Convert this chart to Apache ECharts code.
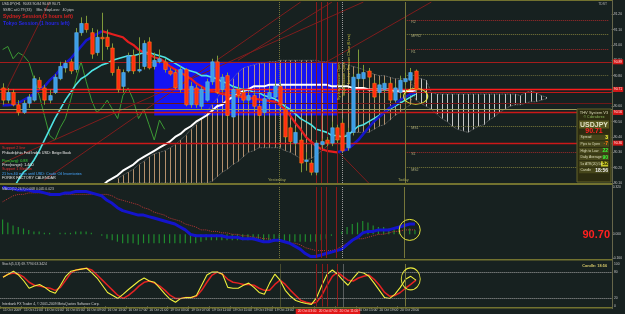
<!DOCTYPE html>
<html><head><meta charset="utf-8">
<script src="https://cdn.jsdelivr.net/npm/echarts@6/dist/echarts.min.js"></script>
<style>html,body{margin:0;padding:0;background:#172120;}#c{width:625px;height:314px;}</style>
</head><body><div id="c"></div>
<script>
// ---------- DATA ----------
const timeLabels = ["15 Oct 2009","15 Oct 21:00","16 Oct 01:00","16 Oct 05:00","16 Oct 09:00","16 Oct 13:00","16 Oct 17:00","16 Oct 21:00","19 Oct 03:00","19 Oct 07:00","19 Oct 11:00","19 Oct 15:00","19 Oct 19:00","19 Oct 23:00","20 Oct 03:00","20 Oct 07:00","20 Oct 11:00","20 Oct 15:00","20 Oct 19:00","20 Oct 23:00"];
const opens = [90.72,90.64,90.69,90.61,90.56,90.62,90.64,90.77,90.72,90.64, 90.69,90.78,90.85,90.89,90.84,91.08,91.14,91.08,90.95,91.05, 91.05,90.98,90.84,90.73,90.83,90.93,90.83,90.86,91.02,90.86, 90.89,90.89,90.83,90.82,90.71,90.84,90.61,90.72,90.60,90.64, 90.76,90.89,90.71,90.80,90.53,90.71,90.69,90.64,90.67,90.60, 90.56,90.65,90.66,90.73,90.58,90.46,90.36,90.38,90.24,90.23, 90.17,90.35,90.38,90.36,90.46,90.49,90.33,90.43,90.78,90.78, 90.83,90.75,90.69,90.71,90.75,90.64,90.69,90.76,90.77,90.83];
const closes = [90.64,90.69,90.61,90.56,90.62,90.66,90.78,90.72,90.64,90.67, 90.79,90.86,90.88,90.83,91.08,91.14,91.10,90.94,91.05,91.04, 90.99,90.82,90.71,90.82,90.93,90.83,90.84,91.01,90.85,90.90, 90.91,90.84,90.81,90.72,90.84,90.61,90.73,90.61,90.71,90.76, 90.89,90.69,90.79,90.54,90.71,90.67,90.64,90.67,90.60,90.54, 90.65,90.69,90.73,90.61,90.40,90.37,90.43,90.23,90.25,90.17, 90.36,90.37,90.36,90.46,90.38,90.31,90.43,90.79,90.81,90.82, 90.79,90.66,90.74,90.75,90.64,90.72,90.77,90.78,90.82,90.71];
const lows = [90.61,90.62,90.60,90.54,90.55,90.59,90.63,90.71,90.61,90.62, 90.68,90.77,90.82,90.81,90.82,91.06,91.08,90.91,90.93,90.90, 90.97,90.80,90.69,90.69,90.82,90.81,90.82,90.84,90.84,90.84, 90.88,90.82,90.80,90.71,90.69,90.60,90.59,90.59,90.58,90.63, 90.74,90.68,90.69,90.52,90.52,90.65,90.62,90.61,90.58,90.52, 90.54,90.64,90.65,90.60,90.38,90.35,90.34,90.17,90.18,90.15, 90.15,90.33,90.34,90.34,90.36,90.30,90.31,90.41,90.76,90.77, 90.77,90.64,90.67,90.69,90.63,90.63,90.67,90.74,90.76,90.69];
const highs = [90.75,90.72,90.71,90.64,90.64,90.68,90.80,90.79,90.74,90.71, 90.81,90.89,90.90,90.91,91.11,91.18,91.19,91.11,91.10,91.21, 91.10,91.01,90.86,90.84,90.95,90.97,91.05,91.03,91.05,90.95, 90.97,90.91,90.85,90.84,90.86,90.85,90.76,90.74,90.73,90.78, 90.91,90.93,90.81,90.82,90.73,90.73,90.72,90.69,90.69,90.61, 90.67,90.72,90.76,90.75,90.61,90.48,90.46,90.41,90.30,90.25, 90.38,90.39,90.40,90.50,90.48,90.52,90.46,90.81,90.97,90.87, 90.85,90.77,90.77,90.77,90.77,90.75,90.80,90.82,90.85,90.84];
const maWhite = [null,null,null,null,null,null,null,null,null,null, null,null,null,null,null,null,null,null,90.04,90.08, 90.11,90.13,90.15,90.18,90.20,90.22,90.25,90.27,90.29,90.31, 90.33,90.35,90.37,90.40,90.42,90.45,90.47,90.50,90.52,90.54, 90.57,90.60,90.61,90.64,90.66,90.68,90.70,90.71,90.73,90.73, 90.73,90.74,90.74,90.74,90.74,90.74,90.74,90.74,90.74,90.74, 90.74,90.74,90.74,90.73,90.73,90.73,90.73,90.72,90.72,90.72, 90.71,90.71,90.71,90.71,90.71,90.70,90.70,90.70,90.70,90.70];
const maCyan = [null,null,90.06,90.12,90.17,90.20,90.25,90.31,90.38,90.45, 90.52,90.58,90.64,90.69,90.74,90.78,90.80,90.83,90.85,90.87, 90.88,90.90,90.91,90.92,90.93,90.93,90.94,90.95,90.95,90.94, 90.93,90.92,90.90,90.88,90.86,90.84,90.83,90.82,90.80,90.80, 90.79,90.78,90.76,90.75,90.73,90.72,90.71,90.71,90.69,90.69, 90.67,90.66,90.65,90.63,90.60,90.58,90.55,90.52,90.50,90.48, 90.45,90.44,90.43,90.41,90.41,90.40,90.41,90.44,90.47,90.48, 90.50,90.52,90.54,90.56,90.58,90.60,90.62,90.64,90.66,90.68];
const maSlope = [90.605,90.608,90.61,90.62,90.64,90.66,90.68,90.71,90.73,90.77, 90.80,90.84,90.88,90.91,90.95,90.99,91.03,91.05,91.07,91.09, 91.08,91.07,91.06,91.05,91.02,91.00,90.97,90.95,90.94,90.92, 90.91,90.89,90.86,90.84,90.82,90.80,90.78,90.75,90.73,90.71, 90.70,90.69,90.68,90.675,90.67,90.665,90.66,90.655,90.65,90.645, 90.64,90.635,90.63,90.61,90.58,90.54,90.49,90.45,90.40,90.37, 90.34,90.32,90.31,90.305,90.30,90.31,90.32,90.35,90.38,90.42, 90.46,90.50,90.53,90.56,90.59,90.61,90.64,90.66,90.68,90.69];
const greenLine = [90.97,90.99,90.91,90.95,90.93,90.89,90.78,90.67,90.54,90.41, 90.38,90.46,90.52,90.64,90.77,90.89,90.76,90.64,90.56,90.59, 90.64,90.58,90.52,90.67,90.72,90.64,90.52,90.58,90.48,90.38, 90.51,90.45];
const spanA = [null,null,null,null,null,null,null,null,null,null, null,null,null,null,null,null,null,null,null,null, null,null,90.13,90.15,90.17,90.19,90.22,90.24,90.27,90.29, 90.30,90.31,90.33,90.35,90.38,90.41,90.45,90.48,90.52,90.56, 90.61,90.65,90.71,90.75,90.78,90.82,90.85,90.86,90.87,90.88, 90.88,90.89,90.89,90.90,90.90,90.90,90.90,90.90,90.90,90.90, 90.90,90.89,90.89,90.88,90.88,90.88,90.87,90.86,90.85,90.84, 90.82,90.81,90.80,90.80,90.79,90.78,90.78,90.78,90.78,90.64, 90.62,90.60,90.58,90.55,90.52,90.50,90.47,90.45,90.44,90.43, 90.45,90.47,90.48,90.51,90.53,90.56,90.58,90.60,90.61,90.61, 90.62,90.63,90.63,90.64,90.65];
const spanB = [null,null,null,null,null,null,null,null,null,null, null,null,null,null,null,null,null,null,null,null, null,null,90.10,90.10,90.10,90.10,90.10,90.10,90.10,90.10, 90.10,90.10,90.10,90.10,90.10,90.10,90.10,90.10,90.10,90.10, 90.11,90.14,90.17,90.19,90.22,90.24,90.27,90.30,90.31,90.33, 90.33,90.33,90.33,90.33,90.31,90.30,90.28,90.26,90.25,90.26, 90.28,90.31,90.34,90.37,90.39,90.41,90.42,90.43,90.43,90.43, 90.43,90.45,90.47,90.48,90.51,90.54,90.56,90.59,90.61,90.79, 90.78,90.77,90.69,90.68,90.68,90.68,90.68,90.68,90.68,90.68, 90.68,90.68,90.68,90.68,90.68,90.68,90.68,90.68,90.68,90.67, 90.69,90.70,90.69,90.67,90.66];
const macdMain = [0.32,0.31,0.31,0.30,0.30,0.30,0.29,0.29,0.28,0.27, 0.27,0.27,0.28,0.28,0.29,0.29,0.29,0.28,0.27,0.26, 0.23,0.21,0.18,0.16,0.15,0.14,0.13,0.13,0.12,0.11, 0.10,0.09,0.08,0.07,0.05,0.03,0.00,-0.01,-0.01,-0.01, -0.01,-0.01,-0.01,-0.02,-0.02,-0.02,-0.03,-0.03,-0.03,-0.04, -0.05,-0.05,-0.04,-0.04,-0.05,-0.06,-0.08,-0.10,-0.13,-0.15, -0.15,-0.14,-0.13,-0.12,-0.11,-0.10,-0.07,-0.04,-0.02,0.01, 0.02,0.02,0.03,0.03,0.03,0.04,0.05,0.06,0.07,0.07];
const macdSignal = [0.22,0.24,0.26,0.27,0.27,0.28,0.28,0.28,0.28,0.28, 0.27,0.27,0.27,0.27,0.27,0.27,0.27,0.27,0.27,0.27, 0.27,0.26,0.24,0.23,0.22,0.21,0.20,0.18,0.17,0.15, 0.14,0.13,0.11,0.10,0.09,0.07,0.06,0.05,0.03,0.03, 0.02,0.02,0.01,0.01,0.00,0.00,-0.01,-0.01,-0.02,-0.02, -0.03,-0.03,-0.04,-0.04,-0.05,-0.06,-0.06,-0.07,-0.09,-0.10, -0.11,-0.11,-0.11,-0.11,-0.10,-0.08,-0.06,-0.04,-0.03,-0.03, -0.02,-0.01,0.00,0.00,0.01,0.02,0.02,0.03,0.03,0.03];
const osma = [0.10,0.08,0.06,0.05,0.04,0.03,0.02,0.02,0.01,0.01, 0.00,0.01,0.01,0.01,0.02,0.02,0.02,0.01,0.00,-0.01, -0.03,-0.04,-0.05,-0.06,-0.06,-0.06,-0.07,-0.06,-0.06,-0.06, -0.06,-0.06,-0.06,-0.06,-0.06,-0.06,-0.06,-0.06,-0.05,-0.04, -0.04,-0.04,-0.04,-0.04,-0.04,-0.04,-0.04,-0.04,-0.04,-0.04, -0.05,-0.05,-0.05,-0.05,-0.05,-0.05,-0.05,-0.05,-0.05,-0.05, -0.05,-0.04,-0.03,-0.01,0.00,0.02,0.05,0.07,0.08,0.09, 0.08,0.06,0.05,0.05,0.04,0.04,0.05,0.05,0.04,0.03];
const stochK = [69,76,83,74,60,43,48,52,45,36, 31,50,71,83,86,88,90,79,67,50, 33,26,19,29,40,50,60,67,60,57, 43,29,17,10,19,21,21,26,50,74, 81,81,76,45,43,43,50,55,45,33, 29,55,76,62,38,24,14,10,7,5, 21,50,76,86,76,62,50,67,81,79, 71,55,38,21,19,29,45,64,71,62];
const stochD = [69,76,79,76,69,57,50,48,45,43, 38,45,62,79,86,88,90,86,74,62, 50,38,26,19,26,36,48,57,60,55, 48,38,26,19,19,21,21,24,38,57, 74,81,76,64,57,55,52,52,50,43, 38,38,52,62,52,38,26,14,10,7, 10,26,50,71,81,71,62,60,67,71, 74,64,50,33,24,26,33,43,52,62];
const hLevels = [90.89, 90.71, 90.69, 90.62, 90.58, 90.56, 90.36];
const pivotNames = ["R2","MPR2","R1","","MS1","S1","MS2"];
const pivotPrices = [91.16, 91.07, 90.97, 90.80, 90.47, 90.30, 90.20];
const sessionBars = [53, 60, 61, 62, 64, 65, 77];
const trendLines = [[[0,90.66],[9,91.28]], [[0,90.23],[69,91.28]], [[8,90.12],[57,91.28]], [[45,90.90],[63,91.28]], [[62,90.89],[82,91.28]], [[64,90.31],[70,90.10]]];
const panelLabels = ["Spread","Pips to Open","High to Low","Daily Average","5x ATR(20) 5s","Candle"];
const panelValues = ["3","-7","22","90","52","18:56"];

// ---------- STYLE HELPERS ----------
const N = 117;
const cats = Array.from({length:N}, (_, i) => String(i));
const FONT = "'Liberation Sans', Arial, sans-serif";
const hStyles = [
  {color:'#a41c1c', width:1, lab:true}, {color:'#ff1c1c', width:1.4, lab:true}, {color:'#c01818', width:1, lab:false},
  {color:'#6e1818', width:1, lab:false}, {color:'#9a9a58', width:1, lab:false}, {color:'#cc1818', width:1.4, lab:true},
  {color:'#cc1818', width:1.4, lab:true}];
const pivotColors = ['#a02a2a','#7a7a3a','#a02a2a','#6a6a3a','#7a7a3a','#a02a2a','#7a7a3a'];
const sessionColors = ['#76763a','#8a1a1a','#8a1a1a','#8a1a1a','#8a1a1a','#9a9a9a','#76763a'];
const sessionTypes = ['dotted','solid','solid','solid','solid','dotted','solid'];

function vLines(){ return sessionBars.map((b, k) => ({xAxis: b, lineStyle:{color: sessionColors[k], width:1, type: sessionTypes[k]}, label:{show:false}})); }

const hLineData = hLevels.map((p, k) => ({yAxis: p, lineStyle:{color:hStyles[k].color, width:hStyles[k].width, type:'solid'},
  label: hStyles[k].lab ? {show:true, position:'end', distance:1, formatter: q => Number(q.value).toFixed(2), color:'#ffe0e0', backgroundColor:'#d41616', fontSize:3.4, padding:[1,1,1,1], fontFamily:FONT} : {show:false}}));
const pivotData = pivotPrices.map((p, k) => [
  {coord:[77, p], lineStyle:{color:pivotColors[k], width:1, type:'dotted'}, label:{show: pivotNames[k] !== '', position:'insideStartBottom', formatter: pivotNames[k], color:'#a8a878', fontSize:3.6, distance:[6,0], fontFamily:FONT}},
  {coord:[116, p]}]);

// slope-coloured MA split into rising / falling parts
const maRise = maSlope.map(() => null), maFall = maSlope.map(() => null);
for (let i = 1; i < maSlope.length; i++) { const arr = maSlope[i] > maSlope[i-1] ? maRise : maFall; arr[i] = maSlope[i]; arr[i-1] = maSlope[i-1]; }

const candleData = opens.map((o, i) => [i, o, closes[i], lows[i], highs[i]]);
const cloudData = spanA.map((a, i) => (a == null ? null : [i, a, spanB[i]])).filter(Boolean);

function renderCandle(params, api){
  const i = api.value(0), o = api.value(1), c = api.value(2), l = api.value(3), h = api.value(4);
  const po = api.coord([i,o]), pc = api.coord([i,c]), pl = api.coord([i,l]), ph = api.coord([i,h]);
  const bw = Math.max(2, api.size([1,0])[0]*0.66);
  const up = c >= o;
  const top = Math.min(po[1], pc[1]), bh = Math.max(1, Math.abs(po[1]-pc[1]));
  const cx = Math.round(po[0]) + 0.5;
  return {type:'group', children:[
    {type:'line', shape:{x1:cx, y1:pl[1], x2:cx, y2:ph[1]}, style:{stroke:'#7f9a3a', lineWidth:1}},
    {type:'rect', shape:{x:cx-bw/2, y:top, width:bw, height:bh}, style:{fill: up ? '#3b9de6' : '#ff2d12', stroke: up ? '#62b4f2' : '#ff7a10', lineWidth:0.6}}
  ]};
}
function renderCloud(params, api){
  const i = api.value(0), a = api.value(1), b = api.value(2);
  const p1 = api.coord([i,a]), p2 = api.coord([i,b]);
  const x = Math.round(p1[0]) + 0.5;
  return {type:'line', shape:{x1:x, y1:p1[1], x2:x, y2:p2[1]}, style:{stroke: a > b ? '#cfa37a' : '#e2e2e2', lineWidth:1, opacity:0.85}};
}

const labelInterval = idx => idx % 4 === 0 && idx / 4 < timeLabels.length;
const xHidden = g => ({gridIndex:g, type:'category', data:cats, boundaryGap:true, axisLine:{show:false}, axisTick:{show:false}, axisLabel:{show:false}, splitLine:{show:false}});

const series = [
  // main pane
  {type:'custom', name:'cloud', xAxisIndex:0, yAxisIndex:0, renderItem:renderCloud, data:cloudData, encode:{x:0, y:[1,2]}, z:2, clip:true,
   markArea:{silent:true, itemStyle:{color:'#1414f2'}, data:[[{coord:[29, 90.89]},{coord:[64, 90.54]}]]}},
  {type:'line', xAxisIndex:0, yAxisIndex:0, data:spanA, symbol:'none', lineStyle:{color:'#8a8a8a', width:0.8, type:'dotted'}, z:3},
  {type:'line', xAxisIndex:0, yAxisIndex:0, data:spanB, symbol:'none', lineStyle:{color:'#8a8a8a', width:0.8, type:'dotted'}, z:3},
  {type:'line', xAxisIndex:0, yAxisIndex:0, data:greenLine, symbol:'none', lineStyle:{color:'#3c9a34', width:1}, z:3},
  ...trendLines.map(t => ({type:'line', xAxisIndex:0, yAxisIndex:0, data:t, symbol:'none', lineStyle:{color:'#7e1d1d', width:1}, z:3})),
  {type:'line', xAxisIndex:0, yAxisIndex:0, data:maWhite, symbol:'none', lineStyle:{color:'#ffffff', width:2}, z:4},
  {type:'line', xAxisIndex:0, yAxisIndex:0, data:maCyan, symbol:'none', lineStyle:{color:'#4fe3e3', width:1.6}, z:4},
  {type:'line', xAxisIndex:0, yAxisIndex:0, data:maRise, symbol:'none', lineStyle:{color:'#1616c8', width:2.6}, z:4},
  {type:'line', xAxisIndex:0, yAxisIndex:0, data:maFall, symbol:'none', lineStyle:{color:'#e61e1e', width:2.2}, z:4},
  {type:'custom', name:'candles', xAxisIndex:0, yAxisIndex:0, renderItem:renderCandle, data:candleData, encode:{x:0, y:[1,2,3,4]}, z:6, clip:true,
   markLine:{silent:true, symbol:['none','none'], animation:false, data:[...hLineData, ...pivotData, ...vLines()]},
   markPoint:{silent:true, data:[{coord:[78.6, 90.665], symbol:'circle', symbolSize:[24,16], itemStyle:{color:'rgba(0,0,0,0)', borderColor:'#e6e63c', borderWidth:1}, label:{show:false}}]}},
  // MACD pane
  {type:'bar', xAxisIndex:1, yAxisIndex:1, data:osma, barWidth:1.2, itemStyle:{color:'#1f8c2e'}, z:2,
   markLine:{silent:true, symbol:['none','none'], animation:false, data:vLines()}},
  {type:'line', xAxisIndex:1, yAxisIndex:1, data:macdSignal, symbol:'none', lineStyle:{color:'#b83434', width:1, type:'dotted'}, z:3},
  {type:'line', xAxisIndex:1, yAxisIndex:1, data:macdMain, symbol:'none', lineStyle:{color:'#1414cc', width:3}, z:4,
   markPoint:{silent:true, data:[{coord:[78, 0.03], symbol:'circle', symbolSize:21, itemStyle:{color:'rgba(0,0,0,0)', borderColor:'#e6e63c', borderWidth:1}, label:{show:false}}]}},
  // Stochastic pane
  {type:'line', xAxisIndex:2, yAxisIndex:2, data:stochD, symbol:'none', lineStyle:{color:'#e42222', width:1.5}, z:3,
   markLine:{silent:true, symbol:['none','none'], animation:false, data:[
     {yAxis:80, lineStyle:{color:'#a4a4a4', width:1, type:'dotted'}, label:{show:false}},
     {yAxis:20, lineStyle:{color:'#a4a4a4', width:1, type:'dotted'}, label:{show:false}}, ...vLines()]}},
  {type:'line', xAxisIndex:2, yAxisIndex:2, data:stochK, symbol:'none', lineStyle:{color:'#f2f23c', width:1.1}, z:4,
   markPoint:{silent:true, data:[{coord:[77.5, 65], symbol:'circle', symbolSize:[19,22], itemStyle:{color:'rgba(0,0,0,0)', borderColor:'#e6e63c', borderWidth:1}, label:{show:false}}]}}
];

const sep = '#72722f';
const graphic = [
  {type:'rect', shape:{x:0,y:0,width:612,height:1}, style:{fill:sep}, z:50},
  {type:'rect', shape:{x:0,y:183,width:612,height:2}, style:{fill:sep}, z:50},
  {type:'rect', shape:{x:0,y:259,width:612,height:1.5}, style:{fill:sep}, z:50},
  {type:'rect', shape:{x:0,y:307,width:612,height:1.5}, style:{fill:sep}, z:50},
  {type:'rect', shape:{x:612,y:0,width:1,height:309}, style:{fill:'#66664a'}, z:50}
];
function txt(x, y, t, fill, size, bold, extra){ graphic.push(Object.assign({type:'text', x:x, y:y, z:60, style:{text:t, fill:fill, font:(bold?'bold ':'')+size+'px '+FONT, verticalAlign:'middle', align:'left'}}, extra||{})); }
// top-left header texts
txt(2, 4, 'USDJPY,H1  90.83 90.84 90.69 90.71', '#cfcfcf', 3.5);
txt(3, 10.5, 'SSRC at 0.79 (33)     Min. StopLoss:   40 pips', '#cfcfcf', 3.5);
txt(3, 16.5, 'Sydney Session (5 hours left)', '#d42020', 5, true);
txt(3, 24, 'Tokyo Session (1 hours left)', '#2626e6', 5, true);
// left bottom news block
txt(2, 148, 'Support 2 line', '#e03030', 3.8);
txt(2, 152.5, 'Philadelphia Fed Index USD: Beige Book', '#e6e6e6', 3.8);
txt(2, 161, 'Pips(avg): 0.88', '#36d836', 3.8);
txt(2, 165, 'Prev(range): 1.400', '#e6e6e6', 3.8);
txt(2, 169, 'Support 1 Median', '#e03030', 3.8);
txt(2, 173.5, '21 hrs 40 mins until USD: Crude Oil Inventories', '#46a6ff', 3.8);
txt(2, 177.5, 'FOREX FACTORY CALENDAR', '#e6e6e6', 3.8);
// session markers
txt(268, 180, 'Yesterday', '#a8a858', 4);
txt(398, 180, 'Today', '#a8a858', 4);
txt(339, 100, 'Sydney Session Open', '#d4cc40', 3.8, false, {rotation:Math.PI/2});
txt(344, 97, 'Tokyo Session Open', '#d4cc40', 3.8, false, {rotation:Math.PI/2});
txt(348.5, 84, 'London Session Close (6 hrs)', '#d4cc40', 3.8, false, {rotation:Math.PI/2});
// sub pane texts
txt(2, 189.5, 'MACD(12,26,9) 0.068 0.045 0.023', '#c8c8c8', 3.4);
txt(2, 264, 'Stoch(5,3,3) 69.7794 63.3424', '#c8c8c8', 3.4);
txt(2, 304.5, 'Interbank FX Trader 4, \u00a9 2001-2009 MetaQuotes Software Corp.', '#d0d0d0', 3.4);
graphic.push({type:'text', x:610, y:234.5, z:60, style:{text:'90.70', fill:'#ff2020', font:'bold 11px '+FONT, align:'right', verticalAlign:'middle'}});
graphic.push({type:'text', x:607, y:266, z:60, style:{text:'Candle: 18:56', fill:'#d6c868', font:'bold 3.8px '+FONT, align:'right', verticalAlign:'middle'}});
graphic.push({type:'text', x:607, y:4, z:60, style:{text:'TDST', fill:'#b0b0b0', font:'3.4px '+FONT, align:'right', verticalAlign:'middle'}});
// info panel
graphic.push({type:'rect', z:55, shape:{x:577, y:109, width:34, height:73}, style:{fill:'#2c2c10', stroke:'#64642a', lineWidth:1}});
graphic.push({type:'text', x:594, y:113, z:60, style:{text:'THV System V3', fill:'#d6d6b4', font:'4px '+FONT, align:'center', verticalAlign:'middle'}});
graphic.push({type:'text', x:594, y:117.5, z:60, style:{text:'\u00a9 Cobraforex', fill:'#8fbf5f', font:'3.5px '+FONT, align:'center', verticalAlign:'middle'}});
graphic.push({type:'rect', z:56, shape:{x:579, y:120.5, width:30, height:8}, style:{fill:'#58581f'}});
graphic.push({type:'text', x:594, y:124.8, z:60, style:{text:'USDJPY', fill:'#e2e2c4', font:'bold 7px '+FONT, align:'center', verticalAlign:'middle'}});
graphic.push({type:'text', x:594, y:131.5, z:60, style:{text:'90.71', fill:'#ff2222', font:'bold 7px '+FONT, align:'center', verticalAlign:'middle'}});
const valColors = ['#ffff36','#ff7a10','#36ff36','#36ff36','#202000','#f2f2f2'];
panelLabels.forEach((lab, k) => {
  const y = 137.5 + k*6.6;
  graphic.push({type:'rect', z:56, shape:{x:579, y:y-2.8, width:30, height:5.6}, style:{fill:'#46461a'}});
  if (k === 4) graphic.push({type:'rect', z:57, shape:{x:601, y:y-2.6, width:7, height:5.2}, style:{fill:'#c8c828'}});
  graphic.push({type:'text', x:580.5, y:y, z:60, style:{text:lab, fill:'#dcdcbc', font:'3.4px '+FONT, align:'left', verticalAlign:'middle'}});
  graphic.push({type:'text', x:608, y:y, z:60, style:{text:panelValues[k], fill:valColors[k], font:'bold 5px '+FONT, align:'right', verticalAlign:'middle'}});
});

const option = {
  animation:false,
  backgroundColor:'#172120',
  grid:[{left:0, right:13, top:2, height:181}, {left:0, right:13, top:187, height:71}, {left:0, right:13, top:264, height:43}],
  xAxis:[xHidden(0), xHidden(1),
    {gridIndex:2, type:'category', data:cats, boundaryGap:true, axisLine:{show:false}, splitLine:{show:false},
     axisTick:{show:true, interval:labelInterval, length:2, lineStyle:{color:'#8a8a6a'}},
     axisLabel:{show:true, interval:labelInterval, align:'left', margin:2.5, fontSize:3.3, color:'#cfcfcf', fontFamily:FONT,
       formatter:(v, idx) => { const k = idx/4; const t = timeLabels[k] || ''; return (k >= 14 && k <= 16) ? '{r|' + t + '}' : t; },
       rich:{r:{backgroundColor:'#e21818', color:'#ffd0d0', fontSize:3.3, padding:[1,2,1,2], fontFamily:FONT}}}}],
  yAxis:[
    {gridIndex:0, type:'value', position:'right', min:90.10, max:91.28, interval:0.1, splitLine:{show:false},
     axisLine:{show:false}, axisTick:{show:true, length:2, lineStyle:{color:'#8a8a8a'}},
     axisLabel:{fontSize:3.3, color:'#c4c4c4', margin:2, fontFamily:FONT, formatter:v => v.toFixed(2), showMaxLabel:false}},
    {gridIndex:1, type:'value', position:'right', min:-0.16, max:0.32, splitLine:{show:false}, axisLine:{show:false},
     axisTick:{show:false}, axisLabel:{fontSize:3.3, color:'#c4c4c4', margin:2, fontFamily:FONT, customValues:[-0.16, 0, 0.32], formatter:v => v.toFixed(3)}},
    {gridIndex:2, type:'value', position:'right', min:0, max:100, splitLine:{show:false}, axisLine:{show:false},
     axisTick:{show:false}, axisLabel:{fontSize:3.3, color:'#c4c4c4', margin:2, fontFamily:FONT, customValues:[0, 20, 80, 100]}}
  ],
  series: series,
  graphic: graphic
};
const chart = echarts.init(document.getElementById('c'), null, {renderer:'canvas', width:625, height:314});
chart.setOption(option);
</script></body></html>
